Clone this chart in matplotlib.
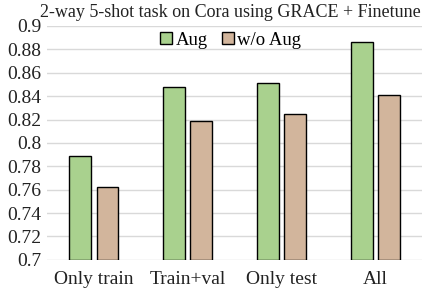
import numpy as np
import matplotlib
matplotlib.use("Agg")
import matplotlib.pyplot as plt

plt.rcParams["font.family"] = ["Liberation Serif", "DejaVu Serif"]

# data
categories = ["Only train", "Train+val", "Only test", "All"]
aug = [0.789, 0.848, 0.851, 0.886]
no_aug = [0.762, 0.819, 0.825, 0.841]
yticks = [0.7, 0.72, 0.74, 0.76, 0.78, 0.8, 0.82, 0.84, 0.86, 0.88, 0.9]

fig = plt.figure(figsize=(4.24, 2.92), dpi=100)
ax = fig.add_axes([0.111, 0.11, 0.885, 0.801])

x = np.arange(len(categories))
w = 0.234
off = 0.144
ax.bar(x - off, [v - 0.7 for v in aug], w, bottom=0.7, color="#A9D18E",
       edgecolor="black", linewidth=1.0, label="Aug", zorder=3)
ax.bar(x + off, [v - 0.7 for v in no_aug], w, bottom=0.7, color="#D2B59C",
       edgecolor="black", linewidth=1.0, label="w/o Aug", zorder=3)

ax.set_xlim(-0.5, 3.5)
ax.set_ylim(0.7, 0.9)
ax.set_yticks(yticks)
ax.set_yticklabels([f"{t:g}" for t in yticks])
ax.set_xticks(x)
ax.set_xticklabels(categories)
ax.tick_params(axis="both", length=0, labelsize=14, colors="#222222")
ax.tick_params(axis="x", pad=8)
ax.tick_params(axis="y", pad=4)
ax.yaxis.grid(True, color="#d9d9d9", linewidth=1.0, zorder=0)
for s in ax.spines.values():
    s.set_visible(False)

ax.legend(loc="upper center", bbox_to_anchor=(0.49, 1.015), ncol=2, frameon=False,
          fontsize=13.5, handlelength=0.6, handleheight=0.6, handletextpad=0.2,
          columnspacing=0.8, borderaxespad=0.1)
fig.text(0.543, 0.985, "2-way 5-shot task on Cora using GRACE + Finetune",
         ha="center", va="top", fontsize=13, color="#222222")

fig.savefig("out.png", dpi=100)
